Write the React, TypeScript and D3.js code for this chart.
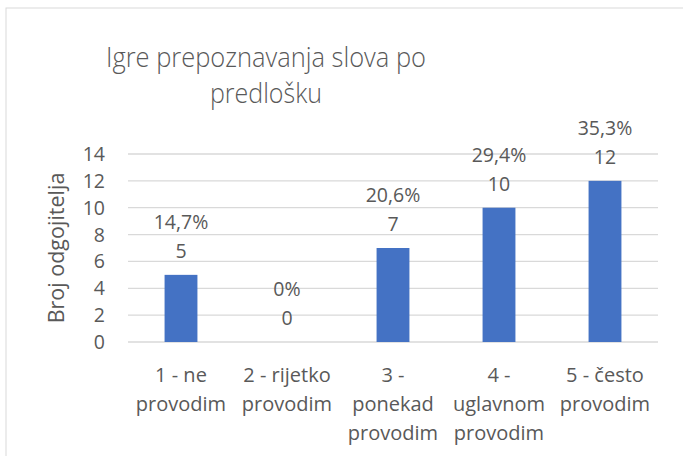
import React from "react";
import * as d3 from "d3";

const categories: string[][] = [
  ["1 - ne", "provodim"],
  ["2 - rijetko", "provodim"],
  ["3 -", "ponekad", "provodim"],
  ["4 -", "uglavnom", "provodim"],
  ["5 - često", "provodim"],
];
const counts: number[] = [5, 0, 7, 10, 12];
const percents: string[] = ["14,7%", "0%", "20,6%", "29,4%", "35,3%"];
const yTicks: number[] = [0, 2, 4, 6, 8, 10, 12, 14];
const titleLines: string[] = ["Igre prepoznavanja slova po", "predlošku"];
const yAxisTitle = "Broj odgojitelja";

const W = 683;
const H = 456;
const plot = { left: 128, right: 658, top: 154, bottom: 342 };
const FONT = "'Open Sans', 'Liberation Sans', sans-serif";
const TEXT = "#595959";
const titleWidths = [320, 112];

export default function App() {
  const x = d3
    .scaleBand<number>()
    .domain(d3.range(categories.length))
    .range([plot.left, plot.right])
    .paddingInner(0.69)
    .paddingOuter(0.345);
  const y = d3.scaleLinear().domain([0, 14]).range([plot.bottom, plot.top]);
  const center = (i: number) => (x(i) as number) + x.bandwidth() / 2;

  return (
    <svg
      width={W}
      height={H}
      style={{ position: "absolute", left: 0, top: 0, background: "#fff" }}
      fontFamily={FONT}
    >
      <rect x={6} y={8} width={W + 10} height={H + 10} fill="#fff" stroke="#d9d9d9" strokeWidth={1} />
      {titleLines.map((t, i) => (
        <text
          key={t}
          x={266}
          y={67 + i * 36}
          textAnchor="middle"
          fontSize={27.5}
          fontWeight={300}
          fill={TEXT}
          textLength={titleWidths[i]}
          lengthAdjust="spacingAndGlyphs"
        >
          {t}
        </text>
      ))}
      {yTicks.map((t) => (
        <g key={t}>
          <line x1={plot.left} x2={plot.right} y1={y(t)} y2={y(t)} stroke="#d9d9d9" strokeWidth={1.3} />
          <text x={105} y={y(t) + 7} textAnchor="end" fontSize={19.5} fill={TEXT}>
            {t}
          </text>
        </g>
      ))}
      <text
        transform={`translate(64,${(plot.top + plot.bottom) / 2}) rotate(-90)`}
        textAnchor="middle"
        fontSize={21.5}
        fill={TEXT}
      >
        {yAxisTitle}
      </text>
      {counts.map((v, i) => (
        <g key={i}>
          <rect
            x={x(i)}
            y={y(v)}
            width={x.bandwidth()}
            height={y(0) - y(v)}
            fill="#4472c4"
          />
          <text x={center(i)} y={y(v) - 17} textAnchor="middle" fontSize={19.5} fill={TEXT}>
            {v}
          </text>
          <text x={center(i)} y={y(v) - 46} textAnchor="middle" fontSize={19.5} fill={TEXT}>
            {percents[i]}
          </text>
        </g>
      ))}
      {categories.map((lines, i) =>
        lines.map((l, j) => (
          <text
            key={`${i}-${j}`}
            x={center(i)}
            y={382 + j * 29}
            textAnchor="middle"
            fontSize={20}
            fill={TEXT}
          >
            {l}
          </text>
        ))
      )}
    </svg>
  );
}
